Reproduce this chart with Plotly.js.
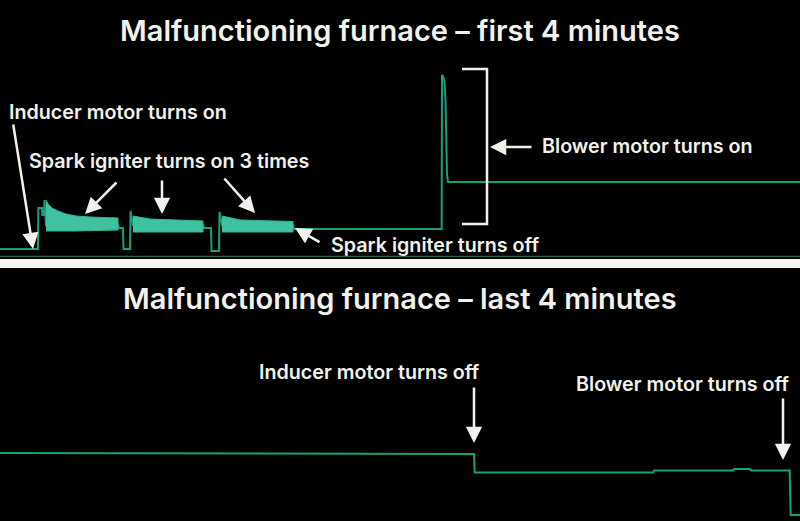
<!DOCTYPE html>
<html>
<head>
<meta charset="utf-8">
<script src="https://cdn.plot.ly/plotly-3.0.1.min.js"></script>
<style>html,body{margin:0;padding:0;background:#000;}#chart{width:800px;height:521px;}</style>
</head>
<body>
<div id="chart"></div>
<script>
// ---- Data (time in seconds, current in arbitrary units) ----
// First 4 minutes: main current trace
var firstT = [0, 11.4, 11.5, 12.6, 12.7, 13.2, 13.35, 13.8, 35.4, 35.7, 36.9, 37.05, 39.0, 39.15, 39.9, 60.9, 61.2, 63.3, 63.45, 65.7, 65.85, 66.6, 87.9, 88.2, 132.5, 132.6, 132.9, 133.35, 133.65, 133.9, 134.1, 134.4, 240];
var firstV = [0.8, 0.8, 4.9, 4.9, 4.2, 4.2, 5.7, 3.2, 3.2, 2.9, 2.9, 0.8, 0.8, 4.6, 3.2, 3.2, 2.9, 2.9, 0.6, 0.6, 4.5, 3.2, 3.2, 2.8, 2.8, 18.2, 18.1, 17.5, 15.7, 11.7, 8.2, 7.5, 7.5];

// Spark igniter envelopes (three firings)
var spark1T   = [13.8, 14.4, 15.6, 17.4, 19.8, 22.8, 27.0, 35.4];
var spark1Top = [5.7, 5.3, 4.9, 4.6, 4.3, 4.1, 4.0, 3.9];
var spark1Bot = [2.6, 2.6, 2.6, 2.6, 2.6, 2.6, 2.6, 2.7];
var spark2T   = [39.9, 45.0, 60.9];
var spark2Top = [4.1, 3.8, 3.6];
var spark2Bot = [2.5, 2.5, 2.5];
var spark3T   = [66.6, 72.0, 87.9];
var spark3Top = [4.1, 3.7, 3.55];
var spark3Bot = [2.5, 2.5, 2.5];

// Last 4 minutes: main current trace
var lastT = [0, 142.2, 142.4, 195.9, 196.2, 219.9, 220.2, 225.0, 225.3, 236.9, 237.2, 240];
var lastV = [6.8, 6.7, 4.85, 4.85, 5.05, 5.05, 5.2, 5.2, 5.05, 5.05, 0.6, 0.6];

// Text
var titleFirst = "Malfunctioning furnace \u2013 first 4 minutes";
var titleLast  = "Malfunctioning furnace \u2013 last 4 minutes";
var labels = ["Inducer motor turns on", "Spark igniter turns on 3 times", "Blower motor turns on",
              "Spark igniter turns off", "Inducer motor turns off", "Blower motor turns off"];

// ---- Styling ----
var W = 800, H = 521;
var LINE = '#17a07a', FILL = '#3fc2a2', TXT = '#f2f2ec';
var FONT = 'Inter, "Open Sans", sans-serif';
var LSIZE = 19.7, TSIZE = 29;
function px(x){ return x / W; }
function py(y){ return 1 - y / H; }

function polygon(t, top, bot){
  return {x: t.concat(t.slice().reverse()), y: top.concat(bot.slice().reverse())};
}

var traces = [
  {x: firstT, y: firstV, xaxis: 'x', yaxis: 'y', mode: 'lines', line: {color: LINE, width: 2}, hoverinfo: 'skip'}
];
[[spark1T, spark1Top, spark1Bot], [spark2T, spark2Top, spark2Bot], [spark3T, spark3Top, spark3Bot]].forEach(function(s){
  var p = polygon(s[0], s[1], s[2]);
  traces.push({x: p.x, y: p.y, xaxis: 'x', yaxis: 'y', mode: 'lines', fill: 'toself', fillcolor: FILL,
               line: {color: '#2fb894', width: 1}, hoverinfo: 'skip'});
});
traces.push({x: lastT, y: lastV, xaxis: 'x2', yaxis: 'y2', mode: 'lines', line: {color: LINE, width: 2}, hoverinfo: 'skip'});

var axisBase = {showgrid: false, zeroline: false, showticklabels: false, ticks: '', showline: false, fixedrange: true};

function label(text, xL, yC){
  return {text: text, x: px(xL), y: py(yC), xref: 'paper', yref: 'paper', xanchor: 'left', yanchor: 'middle',
          showarrow: false, font: {family: FONT, size: LSIZE, color: TXT, weight: 600}};
}
function arrow(tipX, tipY, tailX, tailY){
  return {text: '', x: px(tipX), y: py(tipY), xref: 'paper', yref: 'paper', ax: tailX - tipX, ay: tailY - tipY,
          showarrow: true, arrowhead: 2, arrowsize: 1.3, arrowwidth: 2.5, arrowcolor: TXT, standoff: 0, startstandoff: 0};
}

var annotations = [
  {text: titleFirst, x: 0.5, y: py(31), xref: 'paper', yref: 'paper', xanchor: 'center', yanchor: 'middle', showarrow: false,
   font: {family: FONT, size: TSIZE, color: TXT, weight: 600}},
  {text: titleLast, x: 0.5, y: py(298), xref: 'paper', yref: 'paper', xanchor: 'center', yanchor: 'middle', showarrow: false,
   font: {family: FONT, size: TSIZE, color: TXT, weight: 600}},
  label(labels[0], 7, 112),
  label(labels[1], 27, 161),
  label(labels[2], 540, 146),
  label(labels[3], 329, 245),
  label(labels[4], 257, 372),
  label(labels[5], 574, 384),
  arrow(33, 249, 13, 123),
  arrow(85, 214, 118, 181),
  arrow(162, 214, 162, 179),
  arrow(255, 213, 223, 177),
  arrow(295, 228, 321, 243),
  arrow(490, 147, 533, 147),
  arrow(474, 443, 474, 386),
  arrow(783, 460, 783, 397)
];

var shapes = [
  {type: 'rect', xref: 'paper', yref: 'paper', x0: 0, x1: 1, y0: py(268), y1: py(259), fillcolor: '#f7f7f2', line: {width: 0}, layer: 'above'},
  {type: 'line', xref: 'paper', yref: 'paper', x0: 0, x1: 1, y0: py(256.5), y1: py(256.5), line: {color: '#2c5e48', width: 1.5}},
  {type: 'path', xref: 'paper', yref: 'paper',
   path: 'M ' + px(462) + ',' + py(69) + ' L ' + px(487) + ',' + py(69) + ' L ' + px(487) + ',' + py(224) + ' L ' + px(462) + ',' + py(224),
   line: {color: TXT, width: 2.5}}
];

var layout = {
  width: W, height: H,
  margin: {l: 0, r: 0, t: 0, b: 0, pad: 0},
  paper_bgcolor: '#000', plot_bgcolor: '#000',
  showlegend: false,
  xaxis: Object.assign({}, axisBase, {domain: [0, 1], range: [0, 240], anchor: 'y'}),
  yaxis: Object.assign({}, axisBase, {domain: [py(257), py(57)], range: [0, 20], anchor: 'x'}),
  xaxis2: Object.assign({}, axisBase, {domain: [0, 1], range: [0, 240], anchor: 'y2'}),
  yaxis2: Object.assign({}, axisBase, {domain: [0, py(321)], range: [0, 20], anchor: 'x2'}),
  annotations: annotations,
  shapes: shapes
};

Plotly.newPlot('chart', traces, layout, {displayModeBar: false, staticPlot: true});
</script>
</body>
</html>
